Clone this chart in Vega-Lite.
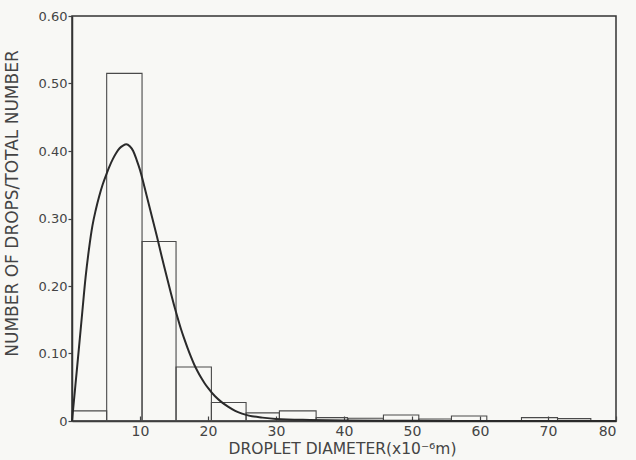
{
  "$schema": "https://vega.github.io/schema/vega-lite/v6.json",
  "width": 544,
  "height": 405,
  "autosize": {"type": "none"},
  "padding": {"left": 72, "top": 16, "right": 20, "bottom": 39},
  "background": "#f8f8f5",
  "config": {
    "view": {"stroke": "#333333", "strokeWidth": 1.5},
    "font": "DejaVu Sans",
    "axis": {
      "domainColor": "#333333",
      "domainWidth": 1.5,
      "tickColor": "#444444",
      "tickWidth": 1.2,
      "grid": false,
      "labelColor": "#444444",
      "titleColor": "#444444",
      "labelFont": "DejaVu Sans",
      "titleFont": "DejaVu Sans",
      "labelFontSize": 13,
      "titleFontWeight": "normal"
    }
  },
  "datasets": {
    "bars": [
      {"x0": 0, "x1": 5.1, "frac": 0.015},
      {"x0": 5.1, "x1": 10.3, "frac": 0.515},
      {"x0": 10.3, "x1": 15.3, "frac": 0.266},
      {"x0": 15.3, "x1": 20.5, "frac": 0.08},
      {"x0": 20.5, "x1": 25.6, "frac": 0.0275},
      {"x0": 25.6, "x1": 30.5, "frac": 0.012},
      {"x0": 30.5, "x1": 35.9, "frac": 0.015},
      {"x0": 35.9, "x1": 40.5, "frac": 0.005},
      {"x0": 40.6, "x1": 45.8, "frac": 0.004},
      {"x0": 45.8, "x1": 51.0, "frac": 0.009},
      {"x0": 51.0, "x1": 55.8, "frac": 0.003},
      {"x0": 55.8, "x1": 61.0, "frac": 0.0075},
      {"x0": 66.1, "x1": 71.4, "frac": 0.005},
      {"x0": 71.4, "x1": 76.3, "frac": 0.0035}
    ],
    "curve": [
      {"d": 0, "p": 0},
      {"d": 0.5, "p": 0.053},
      {"d": 1, "p": 0.106},
      {"d": 1.5, "p": 0.16},
      {"d": 2, "p": 0.213},
      {"d": 2.5, "p": 0.255},
      {"d": 3, "p": 0.289},
      {"d": 3.5, "p": 0.313},
      {"d": 4, "p": 0.333},
      {"d": 4.5, "p": 0.35},
      {"d": 5, "p": 0.364},
      {"d": 5.5, "p": 0.377},
      {"d": 6, "p": 0.388},
      {"d": 6.5, "p": 0.397},
      {"d": 7, "p": 0.404},
      {"d": 7.5, "p": 0.408},
      {"d": 8, "p": 0.41},
      {"d": 8.5, "p": 0.407},
      {"d": 9, "p": 0.4},
      {"d": 9.5, "p": 0.387},
      {"d": 10, "p": 0.372},
      {"d": 10.5, "p": 0.353},
      {"d": 11, "p": 0.333},
      {"d": 11.5, "p": 0.313},
      {"d": 12, "p": 0.293},
      {"d": 12.5, "p": 0.273},
      {"d": 13, "p": 0.252},
      {"d": 13.5, "p": 0.231},
      {"d": 14, "p": 0.211},
      {"d": 14.5, "p": 0.191},
      {"d": 15, "p": 0.172},
      {"d": 15.5, "p": 0.154},
      {"d": 16, "p": 0.137},
      {"d": 16.5, "p": 0.122},
      {"d": 17, "p": 0.108},
      {"d": 17.5, "p": 0.095},
      {"d": 18, "p": 0.083},
      {"d": 18.5, "p": 0.073},
      {"d": 19, "p": 0.064},
      {"d": 19.5, "p": 0.056},
      {"d": 20, "p": 0.049},
      {"d": 21, "p": 0.037},
      {"d": 22, "p": 0.028},
      {"d": 23, "p": 0.021},
      {"d": 24, "p": 0.015},
      {"d": 25, "p": 0.011},
      {"d": 26, "p": 0.008},
      {"d": 28, "p": 0.005},
      {"d": 30, "p": 0.003},
      {"d": 35, "p": 0.0015},
      {"d": 40, "p": 0.0008},
      {"d": 50, "p": 0.0003},
      {"d": 60, "p": 0.0001},
      {"d": 80, "p": 0}
    ]
  },
  "layer": [
    {
      "data": {"name": "bars"},
      "mark": {"type": "rect", "fill": "transparent", "stroke": "#4a4a4a", "strokeWidth": 1.1},
      "encoding": {
        "x": {
          "field": "x0", "type": "quantitative",
          "scale": {"domain": [0, 80], "nice": false},
          "axis": {
            "values": [10, 20, 30, 40, 50, 60, 70, 80],
            "tickSize": -5,
            "labelPadding": 8,
            "labelFontSize": 14,
            "title": "DROPLET DIAMETER(x10⁻⁶m)",
            "titleFontSize": 15.5,
            "titleX": 270,
            "titleY": 20
          }
        },
        "x2": {"field": "x1"},
        "y": {
          "field": "frac", "type": "quantitative",
          "scale": {"domain": [0, 0.6], "nice": false},
          "axis": {
            "values": [0, 0.1, 0.2, 0.3, 0.4, 0.5, 0.6],
            "labelExpr": "datum.value == 0 ? '0' : format(datum.value, '.2f')",
            "tickSize": 4,
            "labelPadding": 1,
            "title": "NUMBER OF DROPS/TOTAL NUMBER",
            "titleFontSize": 17,
            "titleX": -51,
            "titleY": 187
          }
        },
        "y2": {"datum": 0}
      }
    },
    {
      "data": {"name": "curve"},
      "mark": {"type": "line", "color": "#2a2a2a", "strokeWidth": 2, "interpolate": "monotone"},
      "encoding": {
        "x": {"field": "d", "type": "quantitative"},
        "y": {"field": "p", "type": "quantitative"}
      }
    }
  ]
}
